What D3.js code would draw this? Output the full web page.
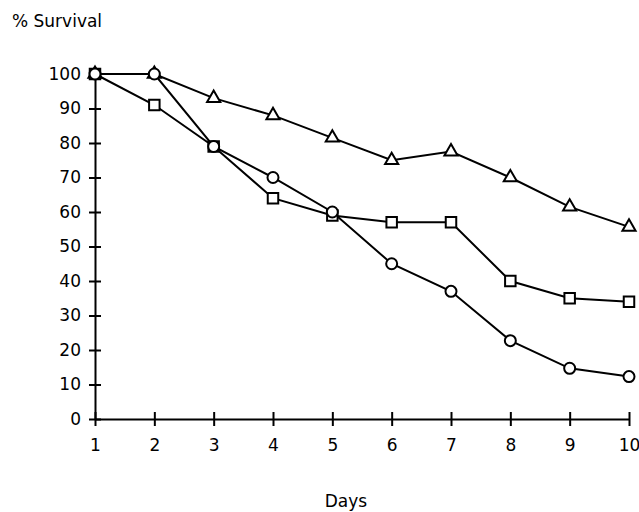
<!DOCTYPE html>
<html>
<head>
<meta charset="utf-8">
<script src="https://cdn.jsdelivr.net/npm/d3@7"></script>
<style>
  body { margin: 0; background: #fff; }
  text { font-family: "DejaVu Sans", sans-serif; font-size: 17px; fill: #000; }
</style>
</head>
<body>
<div id="vis"></div>
<script>
// Chart data
const DAYS = [1, 2, 3, 4, 5, 6, 7, 8, 9, 10];
const Y_TICKS = [0, 10, 20, 30, 40, 50, 60, 70, 80, 90, 100];
const TRIANGLE_VALUES = [100, 100, 93, 88, 81.5, 75, 77.5, 70, 61.5, 55.7];
const SQUARE_VALUES = [100, 91, 79, 64, 59, 57, 57, 40, 35, 34];
const CIRCLE_VALUES = [100, 100, 79, 70, 60, 45, 37, 22.7, 14.7, 12.3];

// Frame and margins
const FRAME_WIDTH = 639;
const FRAME_HEIGHT = 512;
const MARGINS = {left: 95, right: 10, top: 74, bottom: 93};
const VIS_WIDTH = FRAME_WIDTH - MARGINS.left - MARGINS.right;
const VIS_HEIGHT = FRAME_HEIGHT - MARGINS.top - MARGINS.bottom;

const FRAME = d3.select("#vis")
  .append("svg")
    .attr("width", FRAME_WIDTH)
    .attr("height", FRAME_HEIGHT);

const X_SCALE = d3.scaleLinear().domain([1, 10]).range([0, VIS_WIDTH]);
const Y_SCALE = d3.scaleLinear().domain([0, 100]).range([VIS_HEIGHT, 0]);

const G = FRAME.append("g")
  .attr("transform", "translate(" + MARGINS.left + "," + MARGINS.top + ")");

// x axis, ticks cross the line
const xAxis = G.append("g")
  .attr("transform", "translate(0," + VIS_HEIGHT + ")")
  .call(d3.axisBottom(X_SCALE).tickValues(DAYS).tickFormat(d3.format("d"))
    .tickSize(7).tickSizeOuter(0).tickPadding(13));
xAxis.selectAll(".tick line").attr("y1", -7);

// y axis
const yAxis = G.append("g")
  .call(d3.axisLeft(Y_SCALE).tickValues(Y_TICKS)
    .tickSize(6).tickSizeOuter(0).tickPadding(8));
yAxis.selectAll(".tick line").attr("x1", 6);

[xAxis, yAxis].forEach((ax) => {
  ax.attr("font-family", null).attr("font-size", null);
  ax.select(".domain").attr("stroke", "#000").attr("stroke-width", 2);
  ax.selectAll(".tick line").attr("stroke", "#000").attr("stroke-width", 2);
});

// Axis titles
FRAME.append("text").attr("x", 12).attr("y", 27).text("% Survival");
FRAME.append("text").attr("x", 346).attr("y", 507)
  .attr("text-anchor", "middle").text("Days");

const line = d3.line()
  .x((d, i) => X_SCALE(DAYS[i]))
  .y((d) => Y_SCALE(d));

const series = [
  {values: TRIANGLE_VALUES, shape: d3.symbolTriangle, size: 75},
  {values: SQUARE_VALUES, shape: d3.symbolSquare, size: 110},
  {values: CIRCLE_VALUES, shape: d3.symbolCircle, size: 95}
];

// Lines first, markers on top
series.forEach((s) => {
  G.append("path")
    .datum(s.values)
    .attr("d", line)
    .attr("fill", "none")
    .attr("stroke", "#000")
    .attr("stroke-width", 2);
});

series.forEach((s) => {
  G.append("g")
    .selectAll("path")
    .data(s.values)
    .enter()
    .append("path")
      .attr("d", d3.symbol().type(s.shape).size(s.size))
      .attr("transform", (d, i) => "translate(" + X_SCALE(DAYS[i]) + "," + Y_SCALE(d) + ")")
      .attr("fill", "#fff")
      .attr("stroke", "#000")
      .attr("stroke-width", 2);
});
</script>
</body>
</html>
